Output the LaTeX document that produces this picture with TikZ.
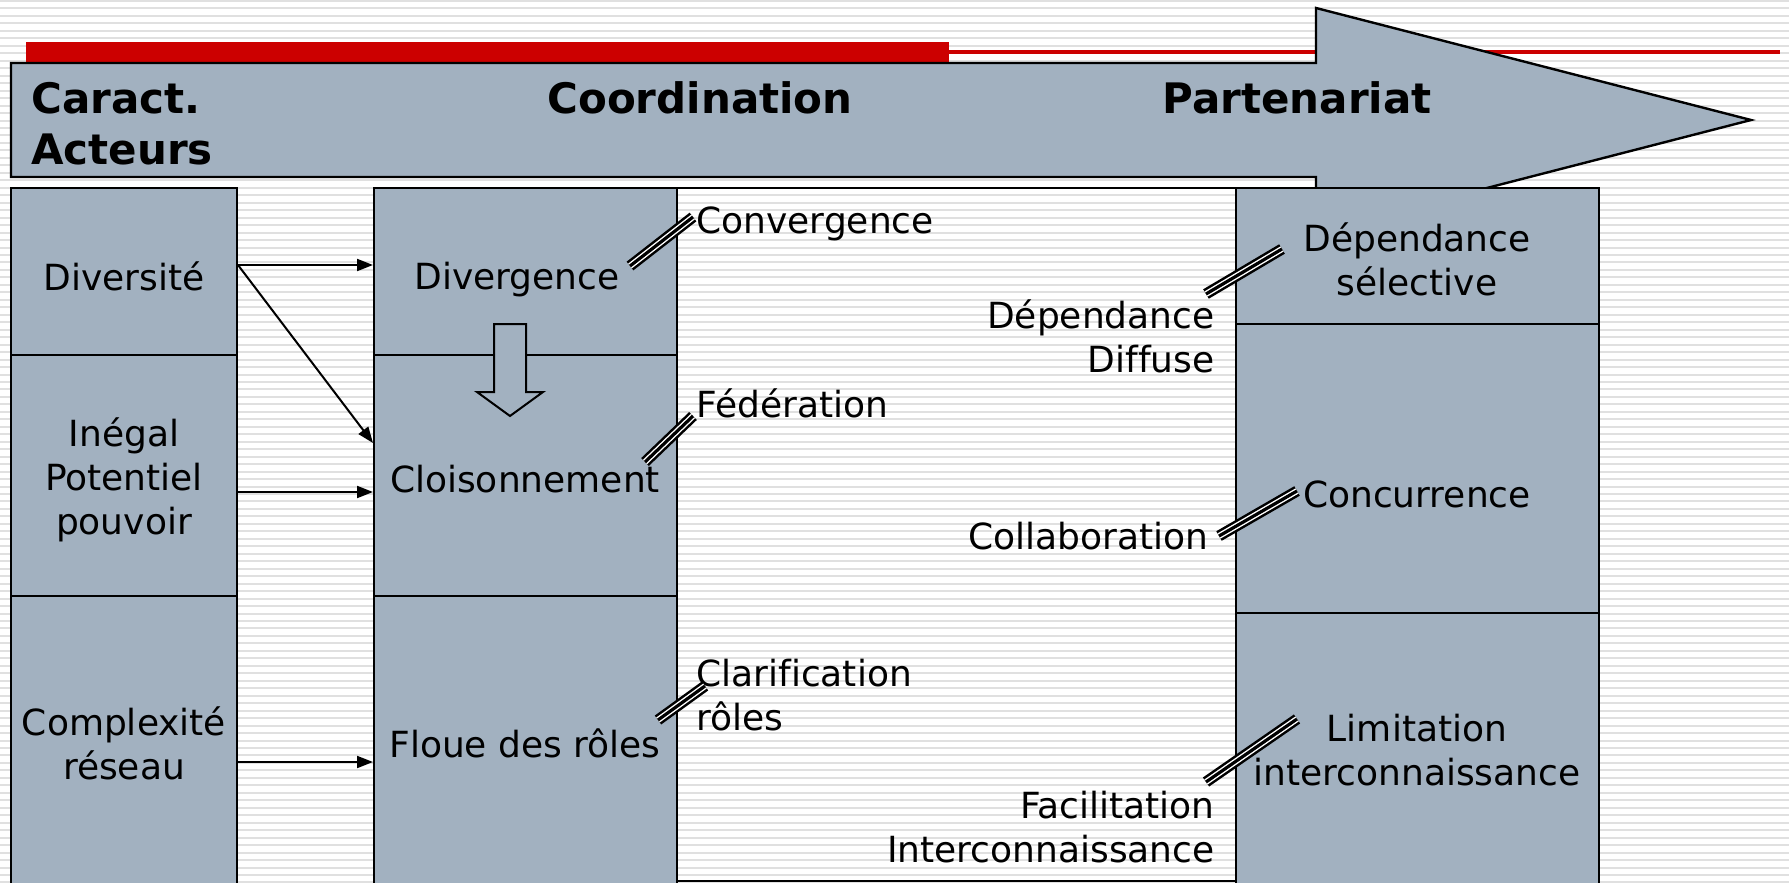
\documentclass[tikz,border=0pt]{standalone}
\usepackage{fontspec}
\setmainfont[Ligatures=CommonOff]{DejaVu Sans}
\usetikzlibrary{arrows.meta}
\definecolor{cellgray}{RGB}{162,177,192}
\definecolor{stripe}{RGB}{224,224,224}
\definecolor{redbar}{RGB}{204,0,0}
\begin{document}
\begin{tikzpicture}[x=0.5pt,y=-0.5pt,
  cell/.style={draw=black, line width=1pt, fill=cellgray, inner sep=0},
  lbl/.style={inner sep=0, font=\fontsize{18}{22}\selectfont, align=center},
  hdr/.style={inner sep=0, font=\fontsize{21}{25.5}\selectfont\bfseries},
  conn/.style={line width=1pt, -{Triangle[length=8pt,width=6pt]}},
  tripleline/.style={line width=5.5pt, postaction={draw, white, line width=3pt}, postaction={draw, black, line width=1.6pt}}]
\useasboundingbox (0,0) rectangle (1789,883);
\clip (0,0) rectangle (1789,883);
% background stripes
\fill[white] (0,0) rectangle (1789,883);
\foreach \i in {0,...,118} \fill[stripe] (0,\i*7.47) rectangle (1789,\i*7.47+2);
% red bar and line
\fill[redbar] (26,42) rectangle (949,63);
\fill[redbar] (949,50) rectangle (1780,54);
% header arrow
\draw[fill=cellgray, line width=1.2pt] (11,63) -- (1316,63) -- (1316,8) -- (1751,120) -- (1316,232) -- (1316,177) -- (11,177) -- cycle;
\node[hdr, anchor=west, align=left] (caract) at (31,124) {Caract.\\Acteurs};
\node[hdr] (coord) at (700,98) {Coordination};
\node[hdr] (parten) at (1297,98) {Partenariat};
% left column
\node[cell, minimum width=113pt, minimum height=83.5pt] (L1) at (124,271.5) {};
\node[cell, minimum width=113pt, minimum height=120.5pt] (L2) at (124,475.5) {};
\node[cell, minimum width=113pt, minimum height=152pt] (L3) at (124,748) {};
% middle column
\node[cell, minimum width=151.5pt, minimum height=83.5pt] (M1) at (525.5,271.5) {};
\node[cell, minimum width=151.5pt, minimum height=120.5pt] (M2) at (525.5,475.5) {};
\node[cell, minimum width=151.5pt, minimum height=152pt] (M3) at (525.5,748) {};
% central box
\node[draw=black, line width=1pt, inner sep=0, minimum width=279.5pt, minimum height=346.5pt] (C) at (956.5,534.5) {};
% right column
\node[cell, minimum width=181.5pt, minimum height=68pt] (R1) at (1417.5,256) {};
\node[cell, minimum width=181.5pt, minimum height=144.5pt] (R2) at (1417.5,468.5) {};
\node[cell, minimum width=181.5pt, minimum height=143.5pt] (R3) at (1417.5,756.5) {};
% hollow arrow
\draw[fill=cellgray, line width=1pt] (494,324) -- (526,324) -- (526,392) -- (543,392) -- (510,416) -- (477,392) -- (494,392) -- cycle;
% texts
\node[lbl] (tdiv) at (124,276) {Diversité};
\node[lbl] (tineg) at (124,480) {Inégal\\Potentiel\\pouvoir};
\node[lbl] (tcomp) at (124,743) {Complexité\\réseau};
\node[lbl] (tdvg) at (517,280) {Divergence};
\node[lbl] (tcls) at (525,479) {Cloisonnement};
\node[lbl] (tflo) at (525,743) {Floue des rôles};
\node[lbl, anchor=west] (tconv) at (696,224) {Convergence};
\node[lbl, anchor=west] (tfed) at (696,403) {Fédération};
\node[lbl, anchor=west, align=left] (tclar) at (696,695) {Clarification\\rôles};
\node[lbl, anchor=east, align=right] (tdd) at (1215,336) {Dépendance\\Diffuse};
\node[lbl, anchor=east] (tcoll) at (1209,536) {Collaboration};
\node[lbl, anchor=east, align=right] (tfac) at (1215,827) {Facilitation\\Interconnaissance};
\node[lbl] (tds) at (1417,259) {Dépendance\\sélective};
\node[lbl] (tconc) at (1417,494) {Concurrence};
\node[lbl] (tlim) at (1417,750) {Limitation\\interconnaissance};
% connectors
\draw[conn] (L1.east |- 0,265) -- (M1.west |- 0,265);
\draw[conn] (L1.east |- 0,265) -- (M2.west |- 0,443);
\draw[conn] (L2.east |- 0,492) -- (M2.west |- 0,492);
\draw[conn] (L3.east |- 0,762) -- (M3.west |- 0,762);
% triple marks
\coordinate (a1) at (630,266); \coordinate (b1) at (693,217);
\coordinate (a2) at (645,462); \coordinate (b2) at (693,416);
\coordinate (a3) at (658,720); \coordinate (b3) at (705,686);
\coordinate (a4) at (1206,294); \coordinate (b4) at (1282,249);
\coordinate (a5) at (1219,536); \coordinate (b5) at (1297,491);
\coordinate (a6) at (1206,782); \coordinate (b6) at (1297,719);
\foreach \k in {1,...,6} \draw[tripleline] (a\k) -- (b\k);
\end{tikzpicture}
\end{document}
